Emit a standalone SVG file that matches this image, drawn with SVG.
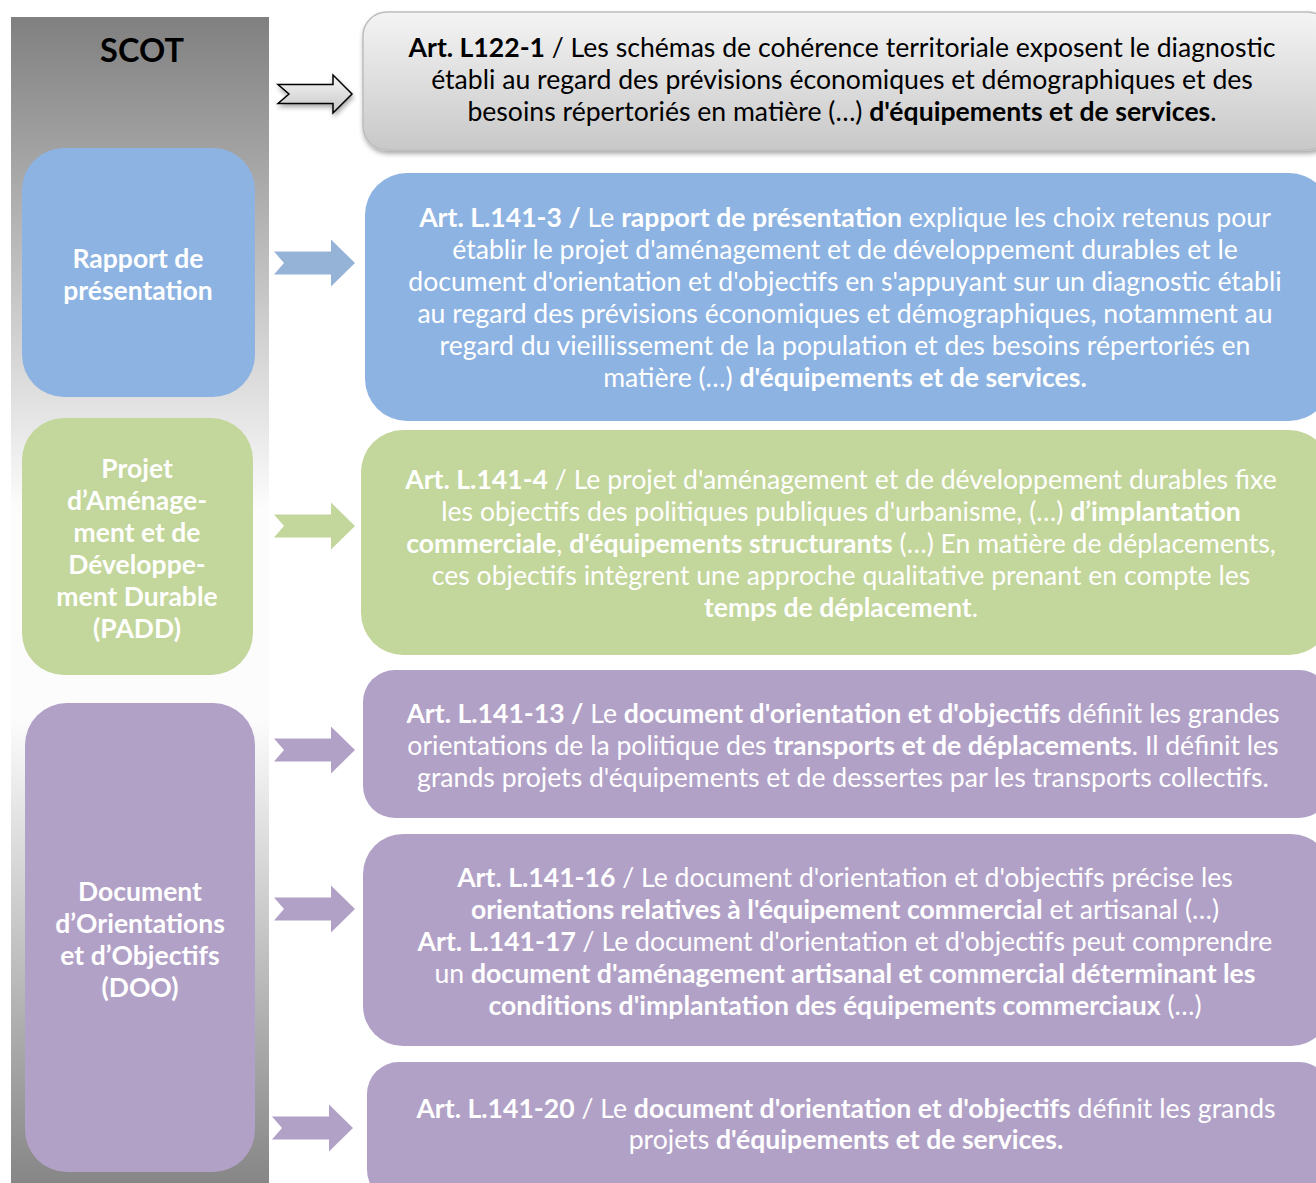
<svg xmlns="http://www.w3.org/2000/svg" width="1316" height="1183" viewBox="0 0 1316 1183">
<defs>
<linearGradient id="bar" x1="0" y1="0" x2="0" y2="1">
<stop offset="0" stop-color="#808080"/>
<stop offset="0.42" stop-color="#fcfcfc"/>
<stop offset="0.6" stop-color="#fcfcfc"/>
<stop offset="1" stop-color="#858585"/>
</linearGradient>
<linearGradient id="grayBox" x1="0" y1="0" x2="0" y2="1">
<stop offset="0" stop-color="#f4f4f4"/>
<stop offset="1" stop-color="#c8c8c8"/>
</linearGradient>
<linearGradient id="grayArrow" x1="0" y1="0" x2="0" y2="1">
<stop offset="0" stop-color="#f7f7f7"/>
<stop offset="1" stop-color="#c6c6c6"/>
</linearGradient>
<filter id="shadow" x="-5%" y="-10%" width="110%" height="130%">
<feGaussianBlur in="SourceAlpha" stdDeviation="2.5"/>
<feOffset dx="1" dy="3" result="b"/>
<feComponentTransfer><feFuncA type="linear" slope="0.35"/></feComponentTransfer>
<feMerge><feMergeNode/><feMergeNode in="SourceGraphic"/></feMerge>
</filter>
<path id="arrowShape" d="M0,-11.5 L57,-11.5 L57,-23.5 L81,0 L57,23.5 L57,11.5 L0,11.5 L10,0 Z"/>
</defs>
<style>
text{font-family:Lato,"Open Sans","Liberation Sans",sans-serif}
.lbl{font-size:26.5px;font-weight:bold;fill:#ffffff;text-anchor:middle}
.body{font-size:26.6px;fill:#ffffff;text-anchor:middle}
.dark{fill:#000000}
.b{font-weight:bold}
.blue{fill:#8db3e2}
.green{fill:#c3d69b}
.purple{fill:#b2a1c7}
</style>

<rect x="11" y="17" width="258" height="1170" fill="url(#bar)"/>

<g id="scot">
<text x="142" y="62" style="font-size:32.5px;font-weight:bold;fill:#000;text-anchor:middle">SCOT</text>
</g>

<g id="node-rapport">
<rect class="blue" x="22" y="148" width="233" height="249" rx="42"/>
<text class="lbl"><tspan x="138" y="268">Rapport de</tspan><tspan x="138" y="300">présentation</tspan></text>
</g>

<g id="node-padd">
<rect class="green" x="22" y="418" width="231" height="257" rx="42"/>
<text class="lbl"><tspan x="137" y="478">Projet</tspan><tspan x="137" y="510">d’Aménage-</tspan><tspan x="137" y="542">ment et de</tspan><tspan x="137" y="574">Développe-</tspan><tspan x="137" y="606">ment Durable</tspan><tspan x="137" y="638">(PADD)</tspan></text>
</g>

<g id="node-doo">
<rect class="purple" x="25" y="703" width="230" height="469" rx="42"/>
<text class="lbl"><tspan x="140" y="901">Document</tspan><tspan x="140" y="933">d’Orientations</tspan><tspan x="140" y="965">et d’Objectifs</tspan><tspan x="140" y="997">(DOO)</tspan></text>
</g>

<g id="node-l122">
<rect x="363" y="12" width="968" height="138" rx="24" fill="url(#grayBox)" stroke="#bdbdbd" stroke-width="1.5" filter="url(#shadow)"/>
<text class="body dark"><tspan x="842" y="57"><tspan class="b">Art. L122-1</tspan> / Les schémas de cohérence territoriale exposent le diagnostic</tspan><tspan x="842" y="89">établi au regard des prévisions économiques et démographiques et des</tspan><tspan x="842" y="121">besoins répertoriés en matière (…) <tspan class="b">d'équipements et de services</tspan>.</tspan></text>
</g>

<g id="node-l141-3">
<rect class="blue" x="365" y="173" width="966" height="248" rx="42"/>
<text class="body"><tspan x="845" y="227"><tspan class="b">Art. L.141-3 /</tspan> Le <tspan class="b">rapport de présentation</tspan> explique les choix retenus pour</tspan><tspan x="845" y="259">établir le projet d'aménagement et de développement durables et le</tspan><tspan x="845" y="291">document d'orientation et d'objectifs en s'appuyant sur un diagnostic établi</tspan><tspan x="845" y="323">au regard des prévisions économiques et démographiques, notamment au</tspan><tspan x="845" y="355">regard du vieillissement de la population et des besoins répertoriés en</tspan><tspan x="845" y="387">matière (…) <tspan class="b">d'équipements et de services.</tspan></tspan></text>
</g>

<g id="node-l141-4">
<rect class="green" x="361" y="430" width="970" height="225" rx="42"/>
<text class="body"><tspan x="841" y="489"><tspan class="b">Art. L.141-4</tspan> / Le projet d'aménagement et de développement durables fixe</tspan><tspan x="841" y="521">les objectifs des politiques publiques d'urbanisme, (…) <tspan class="b">d’implantation</tspan></tspan><tspan x="841" y="553"><tspan class="b">commerciale</tspan>, <tspan class="b">d'équipements structurants</tspan> (…) En matière de déplacements,</tspan><tspan x="841" y="585">ces objectifs intègrent une approche qualitative prenant en compte les</tspan><tspan x="841" y="617"><tspan class="b">temps de déplacement</tspan>.</tspan></text>
</g>

<g id="node-l141-13">
<rect class="purple" x="363" y="670" width="968" height="148" rx="32"/>
<text class="body"><tspan x="843" y="723"><tspan class="b">Art. L.141-13 /</tspan> Le <tspan class="b">document d'orientation et d'objectifs</tspan> définit les grandes</tspan><tspan x="843" y="755">orientations de la politique des <tspan class="b">transports et de déplacements</tspan>. Il définit les</tspan><tspan x="843" y="787">grands projets d'équipements et de dessertes par les transports collectifs.</tspan></text>
</g>

<g id="node-l141-16-17">
<rect class="purple" x="363" y="834" width="968" height="212" rx="40"/>
<text class="body"><tspan x="845" y="887"><tspan class="b">Art. L.141-16</tspan> / Le document d'orientation et d'objectifs précise les</tspan><tspan x="845" y="919"><tspan class="b">orientations relatives à l'équipement commercial</tspan> et artisanal (…)</tspan><tspan x="845" y="951"><tspan class="b">Art. L.141-17</tspan> / Le document d'orientation et d'objectifs peut comprendre</tspan><tspan x="845" y="983">un <tspan class="b">document d'aménagement artisanal et commercial déterminant les</tspan></tspan><tspan x="845" y="1015"><tspan class="b">conditions d'implantation des équipements commerciaux</tspan> (…)</tspan></text>
</g>

<g id="node-l141-20">
<rect class="purple" x="367" y="1062" width="964" height="140" rx="32"/>
<text class="body"><tspan x="846" y="1118"><tspan class="b">Art. L.141-20</tspan> / Le <tspan class="b">document d'orientation et d'objectifs</tspan> définit les grands</tspan><tspan x="846" y="1149">projets <tspan class="b">d'équipements et de services.</tspan></tspan></text>
</g>

<g id="connectors">
<path d="M278,84.5 L333,84.5 L333,75 L352,94 L333,113 L333,103.5 L278,103.5 L289,94 Z" fill="url(#grayArrow)" stroke="#000" stroke-width="1.5" stroke-linejoin="miter" filter="url(#shadow)"/>
<use href="#arrowShape" x="274" y="263" fill="#95b3d7"/>
<use href="#arrowShape" x="274" y="526" fill="#c3d69b"/>
<use href="#arrowShape" x="274" y="750" fill="#b2a1c7"/>
<use href="#arrowShape" x="274" y="909" fill="#b2a1c7"/>
<use href="#arrowShape" x="272" y="1128" fill="#b2a1c7"/>
</g>
</svg>
